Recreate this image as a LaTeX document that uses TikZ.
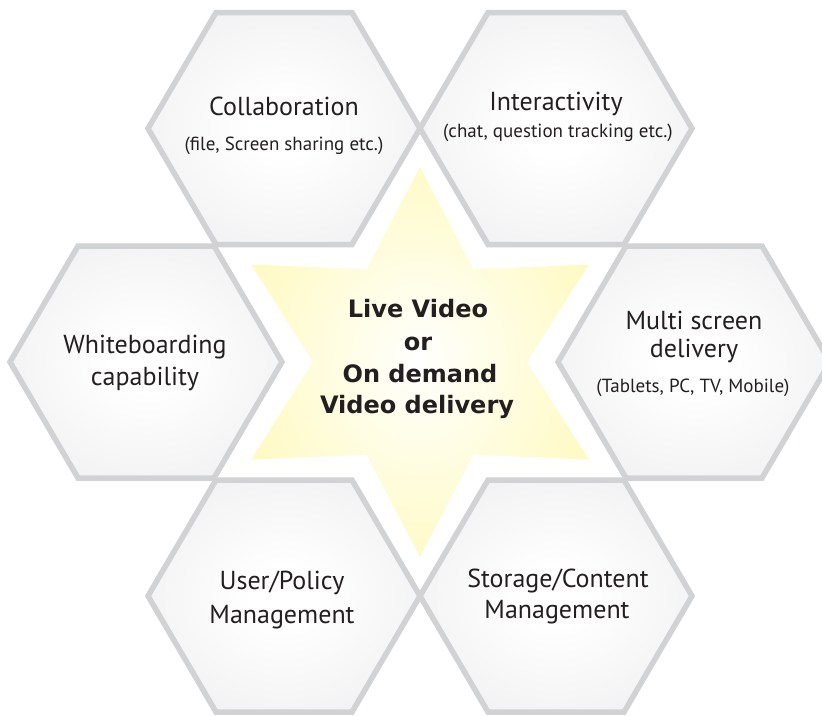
\documentclass[tikz,border=0pt]{standalone}
\usepackage{fontspec}
\setmainfont{PT Sans}
\newfontfamily\starfont{DejaVu Sans}
\definecolor{hexline}{RGB}{209,210,212}
\definecolor{hexout}{RGB}{228,229,231}
\definecolor{staryel}{RGB}{255,245,155}
\definecolor{starin}{RGB}{255,254,236}
\definecolor{textcol}{RGB}{35,31,32}
\pgfdeclareradialshading{hexshade}{\pgfpoint{0bp}{0bp}}{color(0bp)=(white); color(6bp)=(white); color(50bp)=(hexout); color(75bp)=(hexout)}
\pgfdeclareradialshading{starshade}{\pgfpoint{0bp}{0bp}}{color(0bp)=(white); color(8bp)=(starin); color(46bp)=(staryel); color(75bp)=(staryel)}
\begin{document}
\begin{tikzpicture}[x=1pt,y=-1pt,
  hex/.style={shading=hexshade, draw=hexline, line width=5.5pt, line join=miter},
  lbl/.style={anchor=base, text=textcol, inner sep=0pt, font=\fontsize{26}{30}\selectfont},
  sublbl/.style={anchor=base, text=textcol, inner sep=0pt, font=\fontsize{19}{22}\selectfont},
  startxt/.style={anchor=base, text=textcol, inner sep=0pt, font=\starfont\bfseries\fontsize{24}{28}\selectfont}]
\useasboundingbox (0,0) rectangle (822,715);
\fill[white] (0,0) rectangle (822,715);
% hexagons
\foreach \cx/\cy in {284/128.5, 556/128.5, 146/362, 694/362, 284/596, 556/596}{
  \shadedraw[hex, shift={(\cx,\cy)}] (136,0) -- (68,116) -- (-68,116) -- (-136,0) -- (-68,-116) -- (68,-116) -- cycle;
}
% star
\shade[shading=starshade, shift={(420,362)}] (90:195) -- (60:107) -- (30:195) -- (0:107) -- (-30:195) -- (-60:107) -- (-90:195) -- (-120:107) -- (-150:195) -- (180:107) -- (150:195) -- (120:107) -- cycle;
% labels
\node[lbl] (collabA) at (284,115) {Collaboration};
\node[sublbl] (collabB) at (284,150) {(file, Screen sharing etc.)};
\node[lbl] (interA) at (556,110) {Interactivity};
\node[sublbl] (interB) at (558,137) {(chat, question tracking etc.)};
\node[lbl] (whiteA) at (145,353) {Whiteboarding};
\node[lbl] (whiteB) at (145,385) {capability};
\node[lbl] (multiA) at (694,329) {Multi screen};
\node[lbl] (multiB) at (694,357) {delivery};
\node[sublbl] (multiC) at (693,392) {(Tablets, PC, TV, Mobile)};
\node[lbl] (userA) at (282,589) {User/Policy};
\node[lbl] (userB) at (282,623) {Management};
\node[lbl] (storA) at (558,587) {Storage/Content};
\node[lbl] (storB) at (557,618) {Management};
\node[startxt] (starA) at (418,317) {Live Video};
\node[startxt] (starB) at (418,350) {or};
\node[startxt] (starC) at (420,382) {On demand};
\node[startxt] (starD) at (417,413) {Video delivery};
\end{tikzpicture}
\end{document}
